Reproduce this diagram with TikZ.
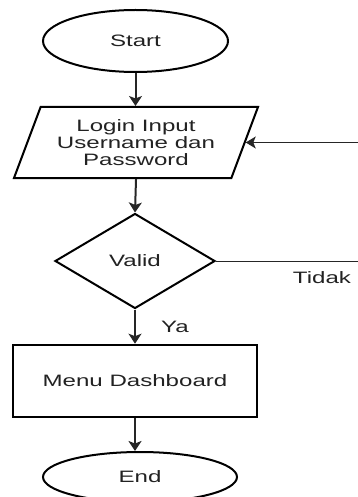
\documentclass[tikz,border=0pt]{standalone}
\usepackage{fontspec}
\setmainfont{Liberation Sans}[FakeStretch=1.46]
\usetikzlibrary{shapes.geometric,arrows.meta}
\definecolor{txt}{HTML}{222222}
\begin{document}
\begin{tikzpicture}[x=1pt,y=-1pt,
  every node/.style={font=\fontsize{16.5pt}{17pt}\selectfont, text=txt},
  shapeline/.style={draw=black, line width=2pt},
  term/.style={shapeline, ellipse, inner sep=0pt},
  flowarrow/.style={draw=black!85, line width=2pt, -{Stealth[width=13pt,length=10pt,inset=2.5pt]}},
  thinarrow/.style={draw=black!85, line width=1pt, -{Stealth[width=12pt,length=10pt,inset=2.5pt]}},
  thinline/.style={draw=black!85, line width=1pt},
  lbl/.style={font=\fontsize{16.5pt}{17pt}\selectfont}
]
\useasboundingbox (0,0) rectangle (358,497);
\node[term, minimum width=185pt, minimum height=62pt] (start) at (135.5,41) {Start};
\node[shapeline, trapezium, trapezium left angle=60, trapezium right angle=120,
      trapezium stretches body, minimum width=244pt, minimum height=71pt,
      inner sep=0pt, align=center] (login) at (136,142.5) {Login Input\\Username dan\\Password};
\node[shapeline, diamond, minimum width=160pt, minimum height=95pt, inner sep=0pt, aspect=1.68] (valid) at (135,261) {Valid};
\node[shapeline, rectangle, line width=2.6pt, minimum width=244pt, minimum height=72pt, inner sep=0pt] (menu) at (135,381) {Menu Dashboard};
\node[term, minimum width=194pt, minimum height=50pt] (end) at (140,477) {End};
\node[lbl] (ya) at (175,327) {Ya};
\node[lbl] (tidak) at (322,278) {Tidak};
\coordinate (inR) at (360,142.5);
\coordinate (outR) at (360,261);
\draw[flowarrow] (start) -- (start|-login.north);
\draw[flowarrow] (login.south) -- (valid.north);
\draw[flowarrow] (valid.south) -- (menu.north);
\draw[flowarrow] (menu.south) -- (end.north -| menu.south);
\draw[thinarrow] (inR) -- (login);
\draw[thinline] (valid.east) -- (outR);
\end{tikzpicture}
\end{document}
